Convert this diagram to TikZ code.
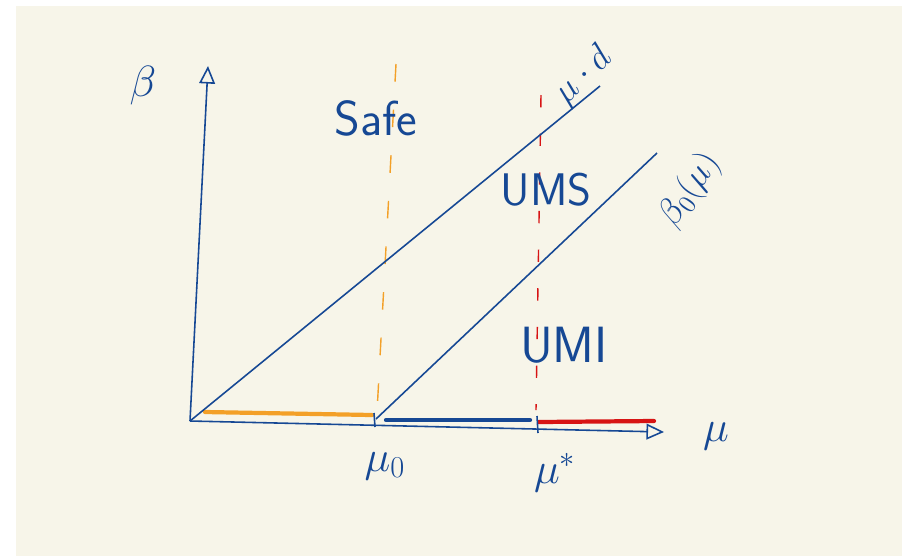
\documentclass[tikz,border=0pt]{standalone}
\definecolor{penblue}{RGB}{22,72,148}
\definecolor{penorange}{RGB}{243,160,40}
\definecolor{penred}{RGB}{215,20,20}
\definecolor{paper}{RGB}{247,245,233}
\usepackage{tikz}
\usetikzlibrary{arrows.meta,calc}
\usepackage{amsmath}

\begin{document}
\begin{tikzpicture}[x=0.02cm,y=-0.02cm,
    every node/.style={font=\fontsize{26}{30}\selectfont\sffamily,penblue},
    axis/.style={penblue,line width=0.9pt,-{Triangle[open,length=10pt,width=9pt]}},
    pen/.style={penblue,line width=0.9pt},
    band/.style={line width=2.4pt,line cap=round}]
      \useasboundingbox (0,0) rectangle (913,556);
      \fill[paper] (16,6) rectangle (902,556);
      % points on the axes
      \coordinate (o) at (190,421);
      \coordinate (ytop) at (208,66);
      \coordinate (xend) at (664,432);
      \coordinate (m0) at (376,419);
      \coordinate (ms) at (537,421);
      \coordinate (dtop) at (600,86);
      \coordinate (btop) at (657,153);
      % region borders
      \coordinate (safetop) at (396,64);
      \coordinate (safebot) at (377,412);
      \coordinate (umstop) at (541,95);
      \coordinate (umsbot) at (536,410);
      \draw[penorange,line width=0.8pt,dash pattern=on 10pt off 16pt] (safetop) -- (safebot);
      \draw[penred,line width=0.8pt,dash pattern=on 7pt off 15pt] (umstop) -- (umsbot);
      % intervals on the mu axis
      \coordinate (safeA) at (205,412);
      \coordinate (safeB) at (372,415);
      \coordinate (umsA) at (386,420);
      \coordinate (umsB) at (530,420);
      \coordinate (umiA) at (539,422);
      \coordinate (umiB) at (654,421);
      \draw[band,penorange] (safeA) -- (safeB);
      \draw[band,penblue] (umsA) -- (umsB);
      \draw[band,penred] (umiA) -- (umiB);
      \draw[axis] (o) -- (ytop);
      \draw[axis] (o) -- (xend);
      \draw[pen] (o) -- (dtop);
      \draw[pen] (m0) -- (btop);
      \draw[pen] ($(ms)+(0,-5)$) -- ($(ms)+(1,12)$);
      \draw[pen] ($(m0)+(-2,-6)$) -- ($(m0)+(-1,8)$);
      % labels
      \node (beta) at (143,86) {$\beta$};
      \node (mu) at (716,436) {$\mu$};
      \node (muzero) at (385,466) {$\mu_0$};
      \node (mustar) at (555,473) {$\mu^{*}$};
      \node[font=\fontsize{28}{32}\selectfont\sffamily] (safe) at (376,118) {Safe};
      \node (ums) at (546,190) {UMS};
      \node[font=\fontsize{29}{32}\selectfont\sffamily] (umi) at (564,345) {UMI};
      \node[rotate=45,font=\fontsize{22}{26}\selectfont] (mud) at (584,76) {$\mu\cdot d$};
      \node[rotate=55,font=\fontsize{20}{24}\selectfont] (betazero) at (690,190) {$\beta_0(\mu)$};
    \end{tikzpicture}
\end{document}
